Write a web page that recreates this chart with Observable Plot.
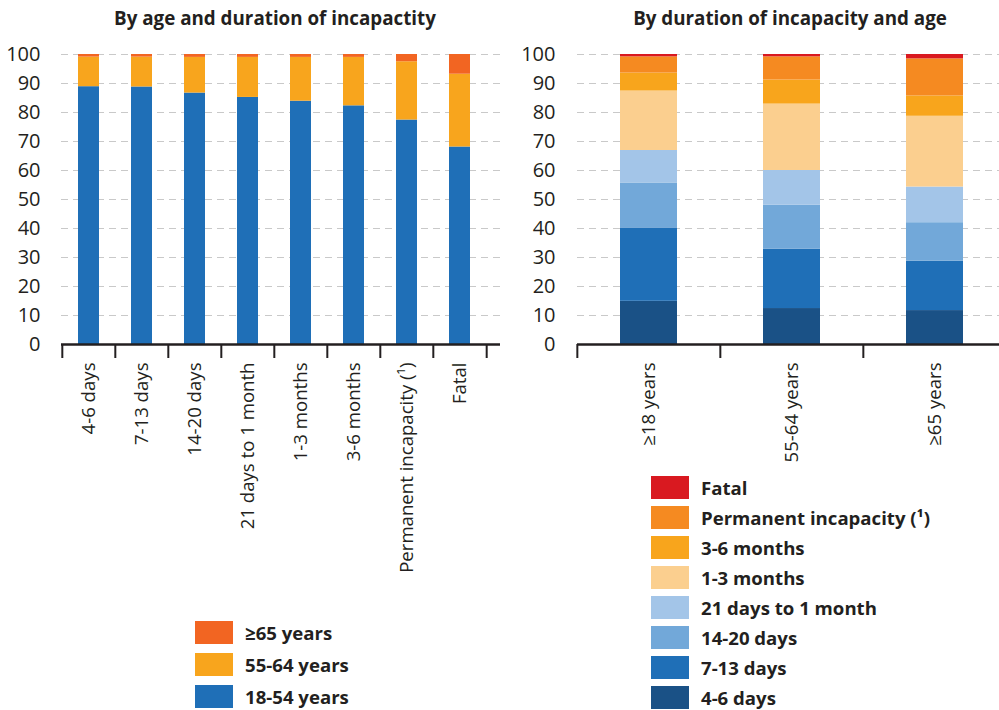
<!DOCTYPE html>
<html>
<head>
<meta charset="utf-8">
<script src="https://cdn.jsdelivr.net/npm/d3@7"></script>
<script src="https://cdn.jsdelivr.net/npm/@observablehq/plot@0.6"></script>
<style>
  html, body { margin:0; padding:0; background:#fff; overflow:hidden; }
  #wrap { position:relative; width:999px; height:710px; font-family:"Open Sans", sans-serif; color:#231f20; }
  .title { position:absolute; top:4px; font-weight:700; font-size:18.8px; line-height:28px; text-align:center; white-space:nowrap; }
  .plot { position:absolute; top:0; }
  .legend { position:absolute; }
  .row { position:absolute; left:0; display:flex; align-items:center; white-space:nowrap; font-weight:700; font-size:18.6px; }
  .sw { width:38px; height:23px; margin-right:12px; flex:none; }
</style>
</head>
<body>
<div id="wrap"></div>
<script>
// ---- data ----
const durations = ["4-6 days","7-13 days","14-20 days","21 days to 1 month","1-3 months","3-6 months","Permanent incapacity (¹)","Fatal"];
const leftAges = ["18-54 years","55-64 years","≥65 years"];
const age18_54 = [88.9, 88.8, 86.7, 85.2, 83.9, 82.3, 77.4, 68.1];
const age55_64 = [10.2, 10.3, 12.3, 13.8, 15.1, 16.7, 20.1, 25.1];
const age65plus = [0.9, 0.9, 1.0, 1.0, 1.0, 1.0, 2.5, 6.8];
const leftColors = ["#1f6fb7", "#f8a51d", "#f26522"];

const rightAges = ["≥18 years","55-64 years","≥65 years"];
const d4_6   = [14.9, 12.4, 11.7];
const d7_13  = [25.3, 20.5, 17.0];
const d14_20 = [15.5, 15.1, 13.3];
const d21_1m = [11.2, 12.0, 12.3];
const m1_3   = [20.5, 22.9, 24.4];
const m3_6   = [6.2, 8.3, 7.0];
const perm   = [5.6, 8.0, 12.8];
const fatal  = [0.8, 0.8, 1.5];
const rightColors = ["#1a5186","#1f6fb7","#72a8d9","#a3c5e8","#fbcf8f","#f8a51c","#f58a21","#d91920"];

const yTicks = d3.range(0, 101, 10);
const titles = ["By age and duration of incapactity", "By duration of incapacity and age"];

// ---- tables ----
const leftSeries = [age18_54, age55_64, age65plus];
const leftData = leftAges.flatMap((s, i) => durations.map((c, j) => ({cat: c, series: s, value: leftSeries[i][j]})));
const rightSeries = [d4_6, d7_13, d14_20, d21_1m, m1_3, m3_6, perm, fatal];
const rightData = durations.flatMap((s, i) => rightAges.map((c, j) => ({cat: c, series: s, value: rightSeries[i][j]})));

const ink = "#231f20";

function chart({data, cats, series, colors, width, marginLeft, xRange, labelPad}) {
  const step = (xRange[1] - xRange[0]) / cats.length;
  return Plot.plot({
    width, height: 600,
    marginLeft, marginRight: 0, marginTop: 54, marginBottom: 256,
    style: {fontFamily: '"Open Sans", sans-serif', fontSize: "18px", color: ink, background: "transparent", overflow: "visible"},
    x: {domain: cats, range: xRange, paddingInner: 0.6, paddingOuter: 0.3, label: null},
    y: {domain: [0, 100], label: null},
    color: {domain: series, range: colors},
    marks: [
      Plot.ruleY(yTicks.filter(d => d > 0), {stroke: "#c9c9c9", strokeWidth: 1.2, strokeDasharray: "7,5"}),
      Plot.barY(data, {x: "cat", y: "value", fill: "series", order: series}),
      Plot.ruleY([0], {stroke: ink, strokeWidth: 2.5}),
      Plot.axisY(yTicks, {tickSize: 0, tickPadding: labelPad, fontSize: 20, fill: ink}),
      Plot.axisX(cats, {tickSize: 14, dx: -step / 2, tickFormat: () => "", stroke: ink, strokeWidth: 2}),
      Plot.axisX([cats[cats.length - 1]], {tickSize: 14, dx: step / 2, tickFormat: () => "", stroke: ink, strokeWidth: 2}),
      Plot.axisX(cats, {tickSize: 0, tickPadding: 18, tickRotate: -90, textAnchor: "end", fontSize: 18.6, fill: ink})
    ]
  });
}

const wrap = document.getElementById("wrap");

const left = chart({data: leftData, cats: durations, series: leftAges, colors: leftColors,
  width: 500, marginLeft: 61, xRange: [61, 488], labelPad: 21});
left.classList.add("plot"); left.style.left = "0px";
wrap.appendChild(left);

const right = chart({data: rightData, cats: rightAges, series: durations, colors: rightColors,
  width: 499, marginLeft: 77, xRange: [77, 507], labelPad: 22});
right.classList.add("plot"); right.style.left = "500px";
wrap.appendChild(right);

// titles
[[titles[0], 275], [titles[1], 790]].forEach(([t, cx]) => {
  const d = document.createElement("div");
  d.className = "title"; d.textContent = t;
  d.style.left = (cx - 250) + "px"; d.style.width = "500px";
  wrap.appendChild(d);
});

// legends
function legend(items, colors, left, top, gap) {
  const lg = document.createElement("div");
  lg.className = "legend"; lg.style.left = left + "px"; lg.style.top = top + "px";
  items.forEach((name, i) => {
    const r = document.createElement("div");
    r.className = "row"; r.style.top = (i * gap) + "px";
    const sw = document.createElement("div"); sw.className = "sw"; sw.style.background = colors[i];
    const tx = document.createElement("span"); tx.textContent = name;
    r.appendChild(sw); r.appendChild(tx); lg.appendChild(r);
  });
  wrap.appendChild(lg);
}
legend(leftAges.slice().reverse(), leftColors.slice().reverse(), 195, 620, 32);
legend(durations.slice().reverse(), rightColors.slice().reverse(), 651, 475, 30);
</script>
</body>
</html>
